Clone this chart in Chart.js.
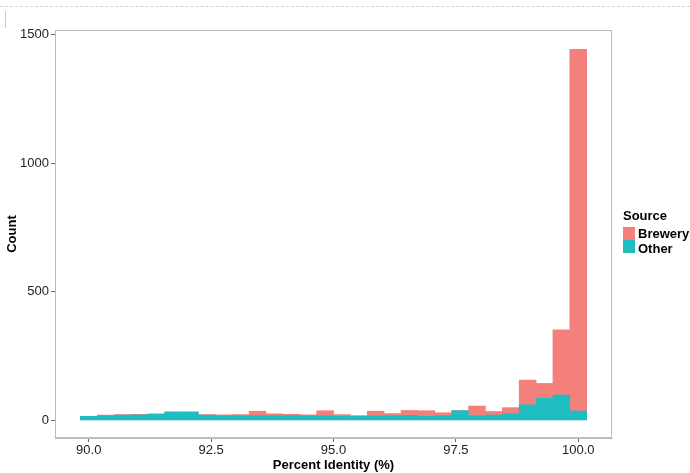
<!DOCTYPE html>
<html>
<head>
<meta charset="utf-8">
<script src="https://cdn.jsdelivr.net/npm/chart.js@4.4.1/dist/chart.umd.min.js"></script>
<style>
html,body{margin:0;padding:0;background:#fff;overflow:hidden;}
#wrap{position:relative;width:690px;height:473px;}
#c{position:absolute;left:0;top:0;}
#legend{position:absolute;left:0;top:0;font-family:"Liberation Sans",Arial,sans-serif;font-weight:bold;font-size:13px;color:#000;white-space:nowrap;}
#legend .t{position:absolute;left:623px;top:208px;line-height:15px;}
#legend .sw{position:absolute;left:623px;width:12px;height:13px;}
#legend .lb{position:absolute;left:638px;line-height:15px;}
#deco1{position:absolute;left:0;top:6px;width:690px;height:0;border-top:1px dashed #d4d4d4;}
#deco2{position:absolute;left:5px;top:11px;width:0;height:17px;border-left:1px solid #c8c8c8;}
</style>
</head>
<body>
<div id="wrap">
  <div id="deco1"></div><div id="deco2"></div>
  <canvas id="c" width="690" height="473"></canvas>
  <div id="legend"></div>
</div>
<script>
// Bin centres (Percent Identity, %)
const binCenters = [90.000, 90.345, 90.690, 91.034, 91.379, 91.724, 92.069, 92.414, 92.759, 93.103,
                    93.448, 93.793, 94.138, 94.483, 94.828, 95.172, 95.517, 95.862, 96.207, 96.552,
                    96.897, 97.241, 97.586, 97.931, 98.276, 98.621, 98.966, 99.310, 99.655, 100.000];
// Counts per bin
const otherCounts   = [16, 19, 21, 22, 24, 33, 33, 21, 19, 18,
                       19, 19, 19, 18, 18, 16, 16, 18, 18, 20,
                       16, 19, 38, 19, 21, 26, 61, 86, 99, 37];
const breweryCounts = [0, 2, 2, 2, 2, 0, 0, 2, 3, 5,
                       17, 7, 5, 4, 20, 7, 3, 18, 9, 19,
                       22, 11, 1, 37, 14, 24, 96, 58, 253, 1405];
const xTicks = [90.0, 92.5, 95.0, 97.5, 100.0];
const yTicks = [0, 500, 1000, 1500];
const seriesNames = ["Brewery", "Other"];
const seriesColors = {"Brewery": "#F3807A", "Other": "#1FBDC0"};

const FONT = '"Liberation Sans", Arial, sans-serif';

const toPoints = (vals) => binCenters.map((x, i) => ({x: x, y: vals[i]}));

const panelBorder = {
  id: 'panelBorder',
  afterDraw(chart) {
    const a = chart.chartArea, ctx = chart.ctx;
    ctx.save();
    ctx.strokeStyle = '#bdbdbd';
    ctx.lineWidth = 1;
    ctx.strokeRect(Math.round(a.left) + 0.5, Math.round(a.top) + 0.5,
                   Math.round(a.right - a.left) - 1, Math.round(a.bottom - a.top) - 1);
    ctx.restore();
  }
};

new Chart(document.getElementById('c'), {
  type: 'bar',
  data: {
    datasets: [
      {label: 'Other', data: toPoints(otherCounts), backgroundColor: seriesColors['Other'],
       borderWidth: 0, barPercentage: 1, categoryPercentage: 1},
      {label: 'Brewery', data: toPoints(breweryCounts), backgroundColor: seriesColors['Brewery'],
       borderWidth: 0, barPercentage: 1, categoryPercentage: 1}
    ]
  },
  options: {
    responsive: false,
    animation: false,
    layout: {padding: {left: 0, top: 30, right: 78, bottom: 0}},
    plugins: {legend: {display: false}, tooltip: {enabled: false}},
    scales: {
      x: {
        type: 'linear', stacked: true, min: 89.31, max: 100.69, offset: false,
        afterBuildTicks: (s) => { s.ticks = xTicks.map(v => ({value: v})); },
        afterFit: (s) => { s.height = 35; },
        grid: {display: true, offset: false, drawOnChartArea: false, drawTicks: true, tickLength: 4, color: '#666'},
        border: {display: true, color: '#bdbdbd'},
        ticks: {font: {family: FONT, size: 13}, color: '#222', padding: 1, maxRotation: 0,
                callback: (v) => Number(v).toFixed(1)},
        title: {display: true, text: 'Percent Identity (%)', font: {family: FONT, size: 13, weight: 'bold'},
                color: '#000', padding: {top: 0, bottom: 0}}
      },
      y: {
        stacked: true, min: -68, max: 1517,
        afterBuildTicks: (s) => { s.ticks = yTicks.map(v => ({value: v})); },
        afterFit: (s) => { s.width = 55; },
        grid: {display: true, drawOnChartArea: false, drawTicks: true, tickLength: 4, color: '#666'},
        border: {display: true, color: '#bdbdbd'},
        ticks: {font: {family: FONT, size: 13}, color: '#222', padding: 2,
                callback: (v) => String(v)},
        title: {display: true, text: 'Count', font: {family: FONT, size: 13, weight: 'bold'},
                color: '#000', padding: {top: 5, bottom: 0}}
      }
    }
  },
  plugins: [panelBorder]
});

// Legend (HTML, real text)
const lg = document.getElementById('legend');
const t = document.createElement('div'); t.className = 't'; t.textContent = 'Source'; lg.appendChild(t);
seriesNames.forEach((name, i) => {
  const sw = document.createElement('div'); sw.className = 'sw';
  sw.style.top = (227 + i * 13) + 'px'; sw.style.background = seriesColors[name];
  lg.appendChild(sw);
  const lb = document.createElement('div'); lb.className = 'lb';
  lb.style.top = (226 + i * 15) + 'px'; lb.textContent = name;
  lg.appendChild(lb);
});
</script>
</body>
</html>
